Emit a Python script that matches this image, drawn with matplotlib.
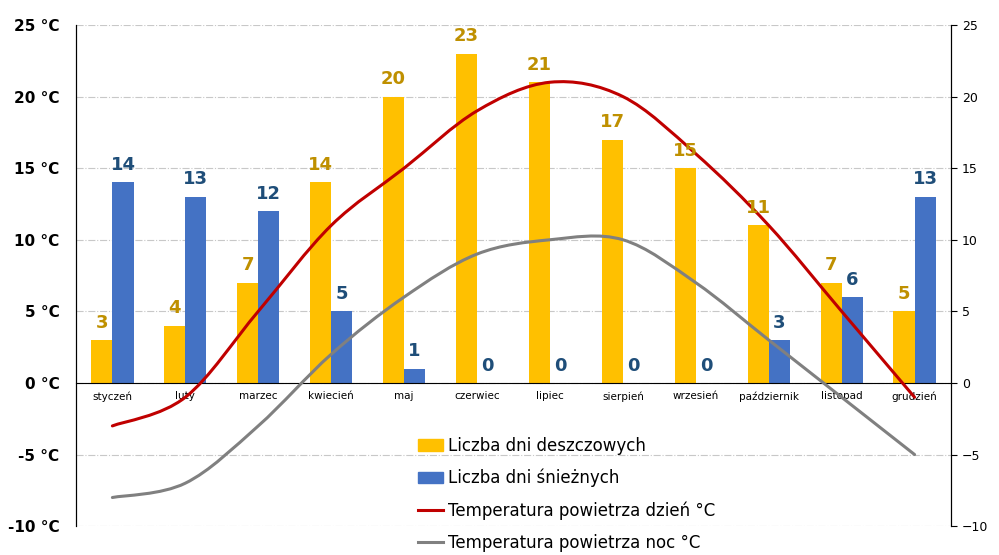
import numpy as np
import matplotlib.pyplot as plt
from matplotlib.path import Path
from matplotlib.patches import PathPatch, Patch
from matplotlib.lines import Line2D

months = ['styczeń', 'luty', 'marzec', 'kwiecień', 'maj', 'czerwiec',
          'lipiec', 'sierpień', 'wrzesień', 'październik', 'listopad', 'grudzień']
rain_days = [3, 4, 7, 14, 20, 23, 21, 17, 15, 11, 7, 5]
snow_days = [14, 13, 12, 5, 1, 0, 0, 0, 0, 3, 6, 13]
temp_day = [-3, -1, 5, 11, 15, 19, 21, 20, 16, 11, 5, -1]
temp_night = [-8, -7, -3, 2, 6, 9, 10, 10, 7, 3, -1, -5]
yticks = list(range(-10, 30, 5))

YELLOW = '#FFC000'
BLUE = '#4472C4'
RED = '#C00000'
GRAY = '#808080'


def smooth_path(xs, ys):
    # Excel-style smoothed line: cubic bezier segments through each point
    p = np.column_stack([xs, ys]).astype(float)
    n = len(p)
    verts = [p[0]]
    codes = [Path.MOVETO]
    for i in range(n - 1):
        p0 = p[i - 1] if i > 0 else p[i]
        p1, p2 = p[i], p[i + 1]
        p3 = p[i + 2] if i + 2 < n else p[i + 1]
        c1 = p1 + (p2 - p0) / 6.0
        c2 = p2 - (p3 - p1) / 6.0
        verts += [c1, c2, p2]
        codes += [Path.CURVE4] * 3
    return Path(verts, codes)


fig = plt.figure(figsize=(9.99, 5.55), dpi=100)
ax = fig.add_axes([0.076, 0.052, 0.876, 0.903])

x = np.arange(len(months))
w = 0.29
b1 = ax.bar(x - w / 2, rain_days, w, color=YELLOW, zorder=2)
b2 = ax.bar(x + w / 2, snow_days, w, color=BLUE, zorder=2)

for rect, v in zip(b1, rain_days):
    ax.annotate(str(v), (rect.get_x() + rect.get_width() / 2, v),
                xytext=(0, 6), textcoords='offset points', ha='center', va='bottom',
                fontsize=13, fontweight='bold', color='#BF9000', zorder=5)
for rect, v in zip(b2, snow_days):
    ax.annotate(str(v), (rect.get_x() + rect.get_width() / 2, v),
                xytext=(0, 6), textcoords='offset points', ha='center', va='bottom',
                fontsize=13, fontweight='bold', color='#1F4E79', zorder=5)

ax.add_patch(PathPatch(smooth_path(x, temp_night), fill=False, edgecolor=GRAY,
                       lw=2.2, zorder=4, capstyle='round'))
ax.add_patch(PathPatch(smooth_path(x, temp_day), fill=False, edgecolor=RED,
                       lw=2.2, zorder=4, capstyle='round'))

ax.set_xlim(-0.5, len(months) - 0.5)
ax.set_ylim(-10, 25)
ax.set_yticks(yticks)
ax.set_yticklabels([f'{t} °C' for t in yticks], fontsize=11, fontweight='bold')
ax.tick_params(axis='y', length=0, pad=12)
ax.yaxis.grid(True, color='#C8C8C8', linestyle='-.', lw=0.8, zorder=0)

ax.spines['bottom'].set_position(('data', 0))
ax.spines['bottom'].set_zorder(3)
ax.spines['top'].set_visible(False)
ax.set_xticks(x)
ax.set_xticklabels(months, fontsize=7.5)
ax.tick_params(axis='x', length=0, pad=6)

ax2 = ax.twinx()
ax2.set_ylim(-10, 25)
ax2.set_yticks(yticks)
ax2.tick_params(axis='y', labelsize=9, length=4, pad=4)
ax2.spines['top'].set_visible(False)
ax2.spines['bottom'].set_visible(False)

handles = [Patch(color=YELLOW), Patch(color=BLUE),
           Line2D([], [], color=RED, lw=2.2), Line2D([], [], color=GRAY, lw=2.2)]
labels = ['Liczba dni deszczowych', 'Liczba dni śnieżnych',
          'Temperatura powietrza dzień °C', 'Temperatura powietrza noc °C']
fig.legend(handles, labels, loc='upper left', bbox_to_anchor=(0.418, 0.213),
           frameon=False, fontsize=12, borderaxespad=0, borderpad=0,
           labelspacing=0.85, handlelength=1.5, handletextpad=0.3)

fig.savefig('out.png', dpi=100)
